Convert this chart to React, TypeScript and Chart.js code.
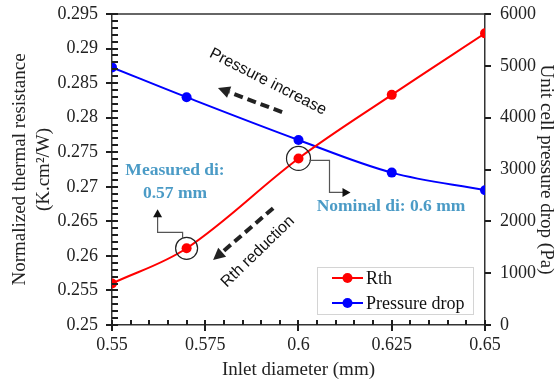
import { useEffect, useRef } from 'react';
import { Chart, registerables } from 'chart.js';

Chart.register(...registerables);

// ---- data ----
const inletDiameter = [0.55, 0.57, 0.6, 0.625, 0.65];
const rthValues = [0.256, 0.2611, 0.2741, 0.2833, 0.2922];
const pressureDrop = [4970, 4395, 3570, 2940, 2600];
const xTickValues = [0.55, 0.575, 0.6, 0.625, 0.65];
const rthTickValues = [0.25, 0.255, 0.26, 0.265, 0.27, 0.275, 0.28, 0.285, 0.29, 0.295];
const pressureTickValues = [0, 1000, 2000, 3000, 4000, 5000, 6000];
const seriesNames = ['Rth', 'Pressure drop'];

// ---- styling ----
const SERIF = "'Liberation Serif', 'Times New Roman', serif";
const SANS = "'Liberation Sans', Arial, sans-serif";
const AXIS = '#333333';
const RED = '#ff0000';
const BLUE = '#0000ff';
const NOTE_BLUE = '#4b9bc6';

function fmt(v: number) {
  return String(Number(v.toFixed(4)));
}

const decorPlugin = {
  id: 'decor',
  afterDraw(chart: any) {
    const ctx: CanvasRenderingContext2D = chart.ctx;
    const a = chart.chartArea;
    const xs = chart.scales.x, ys = chart.scales.y, y2s = chart.scales.y2;
    const px = (v: number) => xs.getPixelForValue(v);
    const py = (v: number) => ys.getPixelForValue(v);
    ctx.save();
    ctx.setLineDash([]);
    // top border
    ctx.strokeStyle = AXIS;
    ctx.lineWidth = 1.5;
    ctx.beginPath();
    ctx.moveTo(a.left, a.top);
    ctx.lineTo(a.right, a.top);
    ctx.stroke();

    // tick marks (as filled rects for crispness)
    ctx.fillStyle = '#1e1e1e';
    const hTick = (x1: number, x2: number, y: number) => ctx.fillRect(Math.min(x1, x2), Math.round(y) - 1, Math.abs(x2 - x1), 2);
    const vTick = (x: number, y1: number, y2: number) => ctx.fillRect(Math.round(x) - 1, Math.min(y1, y2), 2, Math.abs(y2 - y1));
    for (let i = 0; i < rthTickValues.length; i++) {
      const v = rthTickValues[i];
      hTick(a.left - 6, a.left + 6, py(v));
      if (i < rthTickValues.length - 1) {
        const step = (rthTickValues[i + 1] - v) / 5;
        for (let k = 1; k < 5; k++) hTick(a.left, a.left + 6, py(v + step * k));
      }
    }
    for (let i = 0; i < xTickValues.length; i++) {
      const v = xTickValues[i];
      vTick(px(v), a.bottom - 5, a.bottom + 6);
      if (i < xTickValues.length - 1) {
        const step = (xTickValues[i + 1] - v) / 5;
        for (let k = 1; k < 5; k++) vTick(px(v + step * k), a.bottom - 5, a.bottom);
      }
    }
    for (const v of pressureTickValues) {
      hTick(a.right, a.right + 6, y2s.getPixelForValue(v));
    }

    // dashed arrows
    const dashedArrow = (x1: number, yA: number, x2: number, yB: number) => {
      const ang = Math.atan2(yB - yA, x2 - x1);
      const head = 12;
      const bx = x2 - head * Math.cos(ang), by = yB - head * Math.sin(ang);
      ctx.save();
      ctx.strokeStyle = '#222';
      ctx.fillStyle = '#222';
      ctx.lineWidth = 4;
      ctx.setLineDash([9, 5]);
      ctx.beginPath();
      ctx.moveTo(x1, yA);
      ctx.lineTo(bx, by);
      ctx.stroke();
      ctx.setLineDash([]);
      ctx.beginPath();
      ctx.moveTo(x2, yB);
      ctx.lineTo(bx + 6 * Math.sin(ang), by - 6 * Math.cos(ang));
      ctx.lineTo(bx - 6 * Math.sin(ang), by + 6 * Math.cos(ang));
      ctx.closePath();
      ctx.fill();
      ctx.restore();
    };
    dashedArrow(px(0.5956), py(0.2808), px(0.5784), py(0.2843));
    dashedArrow(px(0.5932), py(0.2669), px(0.5771), py(0.2594));

    const rotText = (txt: string, x: number, y: number, deg: number, font: string, color: string) => {
      ctx.save();
      ctx.translate(x, y);
      ctx.rotate((deg * Math.PI) / 180);
      ctx.font = font;
      ctx.fillStyle = color;
      ctx.textAlign = 'center';
      ctx.textBaseline = 'middle';
      ctx.fillText(txt, 0, 0);
      ctx.restore();
    };
    rotText('Pressure increase', px(0.5918), py(0.2852), 27, `16px ${SANS}`, '#111');
    rotText('Rth reduction', px(0.5891), py(0.2606), -44, `16px ${SANS}`, '#111');

    // circles + callouts
    const smallHead = (x: number, y: number, dir: string) => {
      ctx.beginPath();
      if (dir === 'up') {
        ctx.moveTo(x, y);
        ctx.lineTo(x - 4.5, y + 8);
        ctx.lineTo(x + 4.5, y + 8);
      } else {
        ctx.moveTo(x, y);
        ctx.lineTo(x - 8, y - 4.5);
        ctx.lineTo(x - 8, y + 4.5);
      }
      ctx.closePath();
      ctx.fill();
    };
    ctx.strokeStyle = '#222';
    ctx.fillStyle = '#111';
    ctx.lineWidth = 1.2;
    const c1x = px(inletDiameter[1]), c1y = py(rthValues[1]);
    ctx.beginPath();
    ctx.arc(c1x, c1y, 11, 0, Math.PI * 2);
    ctx.stroke();
    ctx.strokeStyle = '#555';
    ctx.beginPath();
    ctx.moveTo(c1x - 4, c1y - 10);
    ctx.lineTo(c1x - 4, c1y - 16);
    ctx.lineTo(c1x - 29, c1y - 16);
    ctx.lineTo(c1x - 29, c1y - 32);
    ctx.stroke();
    smallHead(c1x - 29, c1y - 39, 'up');

    const c2x = px(inletDiameter[2]), c2y = py(rthValues[2]);
    ctx.strokeStyle = '#222';
    ctx.beginPath();
    ctx.arc(c2x, c2y, 12, 0, Math.PI * 2);
    ctx.stroke();
    ctx.strokeStyle = '#555';
    ctx.beginPath();
    ctx.moveTo(c2x + 11, c2y + 2);
    ctx.lineTo(c2x + 31, c2y + 2);
    ctx.lineTo(c2x + 31, c2y + 34);
    ctx.lineTo(c2x + 45, c2y + 34);
    ctx.stroke();
    smallHead(c2x + 52, c2y + 34, 'right');

    // blue notes
    const bold = `bold 17.5px ${SERIF}`;
    rotText('Measured di:', px(0.5669), py(0.2724), 0, bold, NOTE_BLUE);
    rotText('0.57 mm', px(0.5669), py(0.2691), 0, bold, NOTE_BLUE);
    rotText('Nominal di: 0.6 mm', px(0.6248), py(0.2671), 0, bold, NOTE_BLUE);

    // legend
    const lx = a.right - 168, ly = a.bottom - 58, lw = 156, lh = 47;
    ctx.fillStyle = '#fff';
    ctx.fillRect(lx, ly, lw, lh);
    ctx.strokeStyle = '#d4d4d4';
    ctx.lineWidth = 1;
    ctx.strokeRect(lx + 0.5, ly + 0.5, lw, lh);
    const colors = [RED, BLUE];
    seriesNames.forEach((name, i) => {
      const yy = ly + 11 + i * 25;
      ctx.strokeStyle = colors[i];
      ctx.fillStyle = colors[i];
      ctx.lineWidth = 2;
      ctx.beginPath();
      ctx.moveTo(lx + 15, yy);
      ctx.lineTo(lx + 46, yy);
      ctx.stroke();
      ctx.beginPath();
      ctx.arc(lx + 30.5, yy, 5, 0, Math.PI * 2);
      ctx.fill();
      ctx.fillStyle = '#111';
      ctx.font = `18px ${SERIF}`;
      ctx.textAlign = 'left';
      ctx.textBaseline = 'middle';
      ctx.fillText(name, lx + 49, yy + 1);
    });
    ctx.restore();
  },
};

export default function App() {
  const ref = useRef<HTMLCanvasElement | null>(null);
  useEffect(() => {
    document.body.style.margin = '0';
    const canvas = ref.current!;
    const tickFont = { family: SERIF, size: 18 };
    const titleFont = { family: SERIF, size: 19, lineHeight: 1.25 };
    const chart = new Chart(canvas, {
      type: 'line',
      data: {
        datasets: [
          {
            label: seriesNames[0],
            data: inletDiameter.map((x, i) => ({ x, y: rthValues[i] })),
            borderColor: RED,
            backgroundColor: RED,
            borderWidth: 2,
            pointRadius: 5,
            pointBorderWidth: 0,
            tension: 0.35,
            yAxisID: 'y',
          },
          {
            label: seriesNames[1],
            data: inletDiameter.map((x, i) => ({ x, y: pressureDrop[i] })),
            borderColor: BLUE,
            backgroundColor: BLUE,
            borderWidth: 2,
            pointRadius: 5,
            pointBorderWidth: 0,
            tension: 0.35,
            yAxisID: 'y2',
          },
        ],
      },
      options: {
        responsive: false,
        animation: false,
        layout: { padding: { top: 14, left: 0, right: 0, bottom: 0 } },
        plugins: { legend: { display: false }, tooltip: { enabled: false } },
        scales: {
          x: {
            type: 'linear',
            min: 0.55,
            max: 0.65,
            afterBuildTicks: (s: any) => {
              s.ticks = xTickValues.map((value) => ({ value }));
            },
            afterFit: (s: any) => {
              s.height = 58;
              s.paddingLeft = 0;
              s.paddingRight = 0;
            },
            grid: { display: false, drawTicks: false },
            border: { display: true, color: AXIS, width: 1.5 },
            ticks: { font: tickFont, color: '#222', padding: 9, maxRotation: 0, callback: (v: any) => fmt(Number(v)) },
            title: { display: true, text: 'Inlet diameter (mm)', font: titleFont, color: '#222', padding: { top: 0, bottom: 1 } },
          },
          y: {
            position: 'left',
            min: 0.25,
            max: 0.295,
            afterBuildTicks: (s: any) => {
              s.ticks = rthTickValues.map((value) => ({ value }));
            },
            ticks: { font: tickFont, color: '#222', padding: 14, callback: (v: any) => fmt(Number(v)) },
            afterFit: (s: any) => {
              s.width = 112;
              s.paddingTop = 0;
              s.paddingBottom = 0;
            },
            grid: { display: false, drawTicks: false },
            border: { display: true, color: AXIS, width: 1.5 },
            title: {
              display: true,
              text: ['Normalized thermal resistance', '(K.cm\u00b2/W)'],
              font: titleFont,
              color: '#222',
              padding: { top: 8, bottom: 0 },
            },
          },
          y2: {
            position: 'right',
            min: 0,
            max: 6000,
            afterBuildTicks: (s: any) => {
              s.ticks = pressureTickValues.map((value) => ({ value }));
            },
            ticks: { font: tickFont, color: '#222', padding: 15, callback: (v: any) => String(Math.round(Number(v))) },
            afterFit: (s: any) => {
              s.width = 73;
              s.paddingTop = 0;
              s.paddingBottom = 0;
            },
            grid: { display: false, drawTicks: false },
            border: { display: true, color: AXIS, width: 1.5 },
            title: {
              display: true,
              text: 'Unit cell pressure drop (Pa)',
              font: titleFont,
              color: '#222',
              padding: { top: 0, bottom: 0 },
            },
          },
        },
      },
      plugins: [decorPlugin],
    } as any);
    return () => chart.destroy();
  }, []);
  return <canvas ref={ref} width={558} height={383} style={{ display: 'block' }} />;
}
